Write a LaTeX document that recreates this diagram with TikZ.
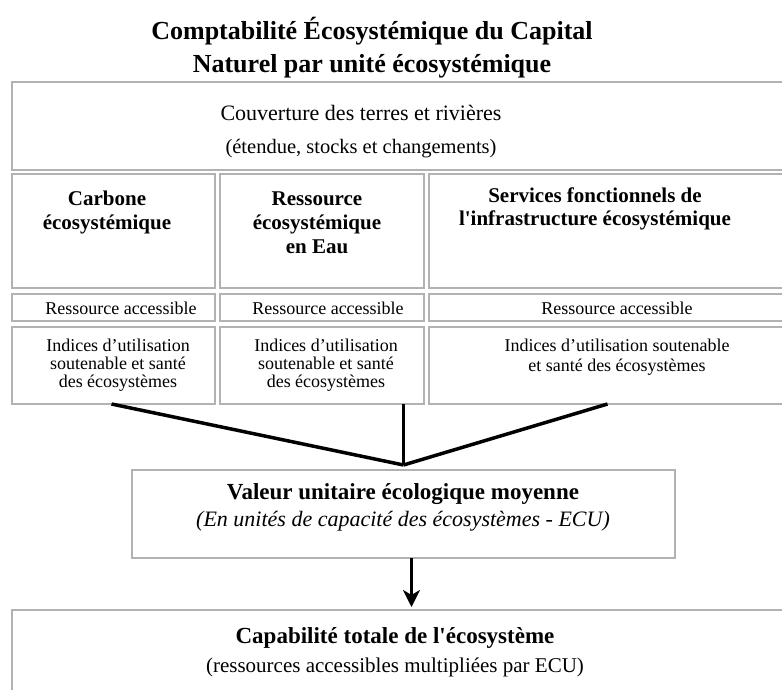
\documentclass[tikz,border=0pt]{standalone}
\usepackage{fontspec}
\setmainfont{Liberation Serif}
\usetikzlibrary{positioning, arrows.meta}
\tikzset{
  x=1pt, y=-1pt,
  >={Stealth[length=17pt, width=17pt, inset=5pt]},
  cell/.style={draw=black!30, line width=1.4pt, inner sep=0pt, outer sep=0pt},
  txt/.style={align=center, inner sep=0pt},
  link/.style={line width=3.5pt}
}
\newcommand{\fs}[2]{\fontsize{#1}{#2}\selectfont}

\begin{document}
\begin{tikzpicture}
    \useasboundingbox (0,0) rectangle (782,690);
    \clip (0,0) rectangle (782,690);

    \node[txt, font=\fs{26}{33}\bfseries] (title) at (372,48) {Comptabilité Écosystémique du Capital\\
      Naturel par unité écosystémique};

    % boxes
    \node[cell, anchor=north west, minimum width=778pt, minimum height=88pt] (couv) at (12,82) {};
    \node[cell, minimum width=203pt, minimum height=114pt] (carb) [below right=4pt and 0pt of couv.south west] {};
    \node[cell, minimum width=204pt, minimum height=114pt] (eau) [right=5pt of carb] {};
    \node[cell, minimum width=361pt, minimum height=114pt] (serv) [right=5pt of eau] {};
    \node[cell, minimum width=203pt, minimum height=27pt] (acc-carb) [below=6pt of carb] {};
    \node[cell, minimum width=204pt, minimum height=27pt] (acc-eau) [below=6pt of eau] {};
    \node[cell, minimum width=361pt, minimum height=27pt] (acc-serv) [below=6pt of serv] {};
    \node[cell, minimum width=203pt, minimum height=77pt] (ind-carb) [below=6pt of acc-carb] {};
    \node[cell, minimum width=204pt, minimum height=77pt] (ind-eau) [below=6pt of acc-eau] {};
    \node[cell, minimum width=361pt, minimum height=77pt] (ind-serv) [below=6pt of acc-serv] {};
    \node[cell, minimum width=543pt, minimum height=88pt] (val) at (403.5,514) {};
    \node[cell, anchor=north west, minimum width=778pt, minimum height=100pt] (cap) at (12,610) {};

    % texts
    \node[txt, font=\fs{22}{33}] (couv-t) at (361,132) {Couverture des terres et rivières\\
      \fs{20.5}{33}(étendue, stocks et changements)};
    \node[txt, font=\fs{21}{24}\bfseries] (carb-t) at (107,212) {Carbone\\ écosystémique};
    \node[txt, font=\fs{21}{24}\bfseries] (eau-t) at (317,223) {Ressource\\ écosystémique\\ en Eau};
    \node[txt, font=\fs{21}{23}\bfseries] (serv-t) at (595,209) {Services fonctionnels de\\ l\textquotesingle infrastructure écosystémique};
    \node[txt, font=\fs{18}{20}] (acc-carb-t) at (121,308) {Ressource accessible};
    \node[txt, font=\fs{18}{20}] (acc-eau-t) at (328,308) {Ressource accessible};
    \node[txt, font=\fs{18}{20}] (acc-serv-t) at (617,308) {Ressource accessible};
    \node[txt, font=\fs{18}{18}] (ind-carb-t) at (118,365) {Indices d’utilisation\\ soutenable et santé\\ des écosystèmes};
    \node[txt, font=\fs{18}{18}] (ind-eau-t) at (326,365) {Indices d’utilisation\\ soutenable et santé\\ des écosystèmes};
    \node[txt, font=\fs{18}{20}] (ind-serv-t) at (617,357) {Indices d’utilisation soutenable\\ et santé des écosystèmes};
    \node[txt, font=\fs{23}{27}] (val-t) at (403,507) {\bfseries Valeur unitaire écologique moyenne\\
      \fs{22}{27}\itshape (En unités de capacité des écosystèmes - ECU)};
    \node[txt, font=\fs{23}{29}] (cap-t) at (395,652) {\bfseries Capabilité totale de l\textquotesingle écosystème\\
      \fs{21}{29}(ressources accessibles multipliées par ECU)};

    % connectors
    \coordinate (meet) at ([yshift=5pt]val.north);
    \draw[link] ([xshift=-2pt]ind-carb.south) -- (meet);
    \draw[link] (meet |- ind-eau.south) -- (meet);
    \draw[link] ([xshift=-2pt]ind-serv.south) -- (meet);
    \draw[->, line width=3pt] ([xshift=8pt]val.south) -- ([xshift=8pt,yshift=3pt]val.south |- cap.north);
\end{tikzpicture}
\end{document}
